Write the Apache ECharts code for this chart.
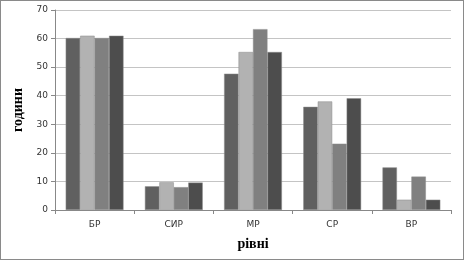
<!DOCTYPE html>
<html><head><meta charset="utf-8">
<script src="https://cdn.jsdelivr.net/npm/echarts@6/dist/echarts.min.js"></script>
<style>html,body{margin:0;padding:0;background:#fff}#c{width:462px;height:258px;border:1px solid #8a8a8a}</style>
</head><body><div id="c"></div>
<script>
const categories = ['БР', 'СИР', 'МР', 'СР', 'ВР'];
const series1 = [60.2, 8.3, 47.7, 36.1, 14.9];
const series2 = [61.0, 9.7, 55.3, 38.0, 3.6];
const series3 = [60.2, 8.0, 63.3, 23.2, 11.7];
const series4 = [61.0, 9.6, 55.3, 39.1, 3.6];
const colors = ['#606060', '#b2b2b2', '#808080', '#4d4d4d'];
const yTicks = [0, 10, 20, 30, 40, 50, 60, 70];

const chart = echarts.init(document.getElementById('c'), null, {renderer: 'canvas'});
const mk = (d, i) => ({
  type: 'bar', data: d, barGap: '0%', barCategoryGap: '27%',
  itemStyle: {color: colors[i], borderColor: '#8c8c8c', borderWidth: 0.5},
  animation: false
});
chart.setOption({
  animation: false,
  grid: {left: 54, right: 12, top: 9, bottom: 49},
  xAxis: {
    type: 'category', data: categories,
    axisLine: {lineStyle: {color: '#888'}},
    axisTick: {show: true, alignWithLabel: false, length: 4, lineStyle: {color: '#888'}},
    axisLabel: {color: '#333', fontSize: 9, fontFamily: 'DejaVu Sans', margin: 10},
    name: 'рівні', nameLocation: 'middle', nameGap: 27,
    nameTextStyle: {fontFamily: 'Liberation Serif', fontWeight: 'bold', fontSize: 14, color: '#000'}
  },
  yAxis: {
    type: 'value', min: yTicks[0], max: yTicks[yTicks.length - 1], interval: 10,
    axisLine: {show: true, lineStyle: {color: '#888'}},
    axisTick: {show: true, length: 4, lineStyle: {color: '#888'}},
    splitLine: {lineStyle: {color: '#c4c4c4'}},
    axisLabel: {color: '#333', fontSize: 9, fontFamily: 'DejaVu Sans', margin: 7},
    name: 'години', nameLocation: 'middle', nameGap: 28, nameRotate: 90,
    nameTextStyle: {fontFamily: 'Liberation Serif', fontWeight: 'bold', fontSize: 14, color: '#000', padding: [0, 0, 0, 0]}
  },
  series: [series1, series2, series3, series4].map(mk)
});
</script></body></html>
